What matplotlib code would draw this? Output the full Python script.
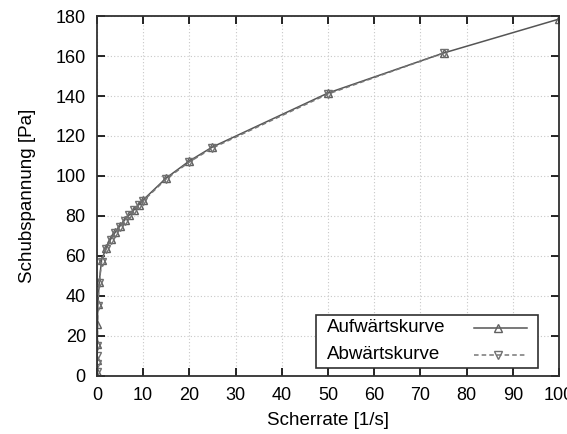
import matplotlib
matplotlib.use("Agg")
import matplotlib.pyplot as plt
from matplotlib.patches import Rectangle

plt.rcParams["font.family"] = ["Liberation Sans", "DejaVu Sans"]

# shear rate [1/s] and shear stress [Pa]
rate_up = [0.0, 0.02, 0.05, 0.1, 0.2, 0.5, 1, 2, 3, 4, 5, 6, 7, 8, 9, 10,
           15, 20, 25, 50, 75, 100]
stress_up = [2, 8, 16, 26, 36, 47, 58, 64, 68.5, 72, 75, 78, 80.5, 83, 85.5, 88,
             99, 107.5, 114.5, 141.5, 161.5, 178.5]

rate_down = [75, 50, 25, 20, 15, 10, 9, 8, 7, 6, 5, 4, 3, 2, 1, 0.5, 0.2,
             0.1, 0.05, 0.02, 0.0]
stress_down = [161.5, 141, 114, 107, 98.5, 87.5, 85.5, 83, 80.5, 77.5, 74.5, 71.5,
               68, 63.5, 57, 46.5, 35, 15, 10, 6, 2]

labels = ["Aufwärtskurve", "Abwärtskurve"]

fig = plt.figure(figsize=(5.67, 4.34), dpi=100)
ax = fig.add_axes([0.171, 0.134, 0.815, 0.829])

up_style = dict(color="#555555", lw=1.1, marker="^", ms=6, mfc="none",
                mec="#606060", mew=1.0)
down_style = dict(color="#777777", lw=1.1, ls=(0, (3, 2)), marker="v", ms=6,
                  mfc="none", mec="#707070", mew=1.0)

ax.plot(rate_up, stress_up, **up_style)
ax.plot(rate_down, stress_down, **down_style)

ax.set_xlim(0, 100)
ax.set_ylim(0, 180)
ax.set_xticks(range(0, 101, 10))
ax.set_yticks(range(0, 181, 20))
ax.grid(True, color="#c8c8c8", ls=(0, (1, 2)), lw=0.8)
ax.tick_params(direction="in", length=6, width=1.2, top=True, right=True,
               labelsize=13, pad=8)
for s in ax.spines.values():
    s.set_linewidth(1.3)
    s.set_color("#303030")

ax.set_xlabel("Scherrate [1/s]", fontsize=13.5, labelpad=6)
ax.set_ylabel("Schubspannung [Pa]", fontsize=13.5, labelpad=14)

# legend drawn like gnuplot's key: text left, sample line right
box = Rectangle((0.474, 0.022), 0.481, 0.147, transform=ax.transAxes,
                facecolor="white", edgecolor="#303030", lw=1.2, zorder=5)
ax.add_patch(box)
for y, lab, st in zip([0.133, 0.058], labels, [up_style, down_style]):
    ax.text(0.497, y, lab, transform=ax.transAxes, fontsize=13.5,
            ha="left", va="center", zorder=6)
    ax.plot([0.816, 0.93], [y, y], transform=ax.transAxes, zorder=6,
            markevery=[], **st)
    ax.plot([0.868], [y], transform=ax.transAxes, zorder=7, ls="none",
            **{k: v for k, v in st.items() if k not in ("ls",)})

fig.savefig("out.png", dpi=100)
